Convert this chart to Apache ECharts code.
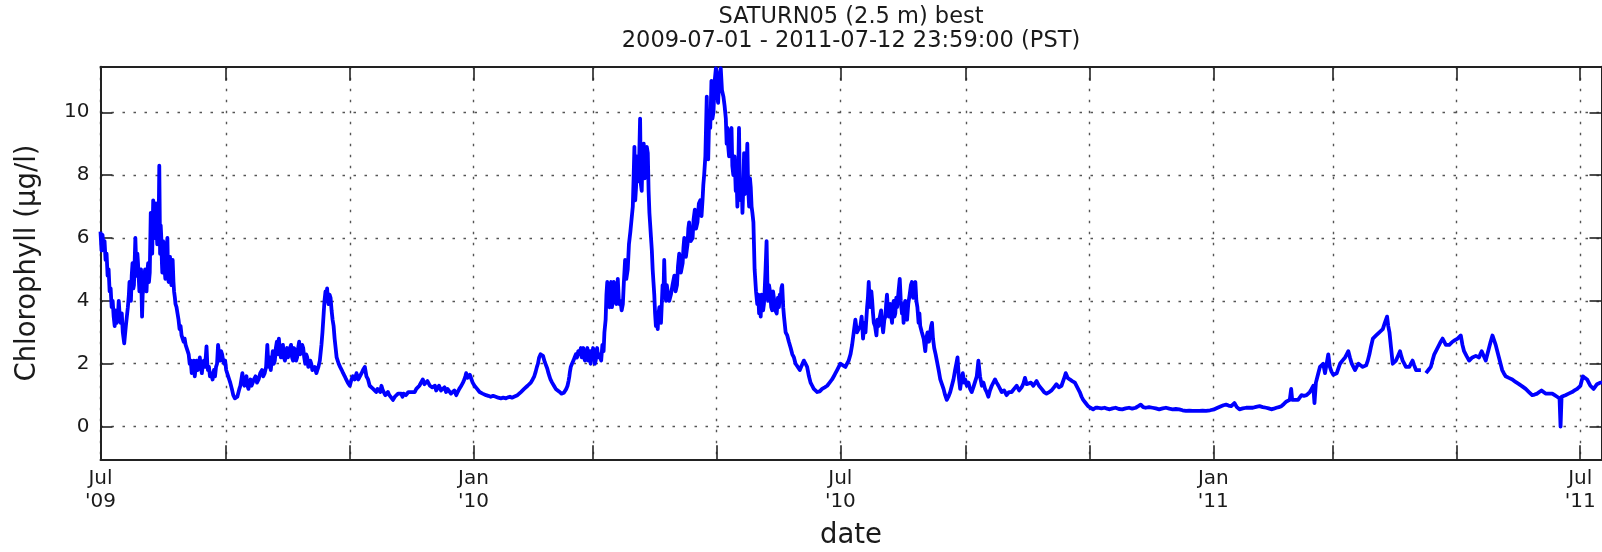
<!DOCTYPE html>
<html><head><meta charset="utf-8">
<script src="https://cdn.jsdelivr.net/npm/echarts@6/dist/echarts.min.js"></script>
<style>html,body{margin:0;padding:0;background:#fff}#c{width:1602px;height:552px}</style>
</head><body><div id="c"></div>
<script>
const titleLines = ['SATURN05 (2.5 m) best', '2009-07-01 - 2011-07-12 23:59:00 (PST)'];
const yAxisTitle = 'Chlorophyll (\u03bcg/l)';
const xAxisTitle = 'date';
const startDate = '2009-07-01';
const endDay = 740.5;
const tickDates = ['2009-07-01','2009-09-01','2009-11-01','2010-01-01','2010-03-01','2010-05-01','2010-07-01','2010-09-01','2010-11-01','2011-01-01','2011-03-01','2011-05-01','2011-07-01'];
const tickLabels = ["Jul\n'09",'','',"Jan\n'10",'','',"Jul\n'10",'','',"Jan\n'11",'','',"Jul\n'11"];
const yTicks = [0,2,4,6,8,10];
const yRange = [-1.04, 11.45];

// [days since 2009-07-01, chlorophyll µg/l]
const summer2009 = [[0,6.2],[0.5,5.6],[1,6.1],[1.5,5.7],[2,5.9],[2.5,5.3],[3,5.5],[3.5,4.8],[4,5.0],[4.5,4.3],[5,4.4],[5.5,3.8],[6,4.0],[6.5,3.5],[7,3.2],[7.5,3.7],[8,3.3],[8.5,3.4],[9,4.0],[9.5,3.5],[10,3.3],[10.5,3.6],[11,3.0],[11.7,2.65],[12.5,3.2],[13,3.5],[13.5,3.8],[14,4.2],[14.3,4.6],[15,4.0],[15.4,4.8],[15.8,5.2],[16.2,4.4],[16.5,4.5],[17.2,6.0],[17.8,4.8],[18.2,5.5],[18.5,5.2],[19.2,4.3],[19.6,4.9],[20,5.0],[20.5,3.5],[20.8,4.2],[21.2,4.4],[21.6,4.8],[22,5.0],[22.4,4.4],[22.7,4.3],[23.1,4.9],[23.5,5.2],[23.9,4.6],[24.3,4.9],[24.8,6.8],[25.1,5.9],[25.5,5.5],[26,7.2],[26.3,6.2],[26.6,6.0],[27,7.0],[27.3,7.1],[27.6,6.3],[28,5.8],[28.4,6.8],[28.7,6.5],[29,8.3],[29.4,5.5],[29.7,6.4],[30,6.0],[30.3,5.2],[30.5,4.9],[30.9,5.9],[31.3,5.8],[31.6,5.0],[32,4.7],[32.5,5.6],[33,6.0],[33.3,5.0],[33.6,4.6],[34,5.3],[34.3,5.4],[34.6,4.7],[35,4.5],[35.3,5.1],[35.6,5.3],[36,4.6],[36.3,4.3],[36.7,4.1],[37,3.9],[37.5,3.8],[38,3.6],[38.5,3.4],[39,3.1],[39.5,3.2],[40,2.9],[40.5,2.9],[41,2.7],[41.5,2.8],[42,2.6],[42.5,2.6],[43,2.4],[43.5,2.3],[44,2.0],[44.5,2.1],[45,1.7],[45.6,1.9],[46,2.1],[46.5,1.6],[47,1.9],[47.3,2.1],[48,1.8],[48.5,2.0],[49,2.2],[49.5,1.9],[50,1.7],[50.5,2.0],[51,2.1],[51.6,1.9],[52.3,2.55],[52.7,2.0],[53,1.8],[53.5,1.9],[54,1.6],[54.6,1.7],[55.3,1.5],[55.6,1.7],[56,1.8],[56.5,1.6],[57,1.9],[57.5,2.0],[58,2.6],[58.5,2.3],[59,2.1],[59.5,2.4],[60,2.3],[60.5,2.1],[61,2.0],[61.5,2.1],[62,1.8],[62.5,1.8],[63,1.6],[63.5,1.5],[64,1.4],[64.8,1.2],[65.5,1.0],[66.3,0.9],[67,0.85],[67.5,0.95],[68,1.0],[68.5,1.2],[69,1.3],[69.5,1.5],[70,1.7],[70.5,1.4],[71,1.3],[71.5,1.5],[72,1.6],[72.5,1.3],[73,1.2],[73.5,1.4],[74,1.5],[74.5,1.3],[75,1.3],[75.7,1.5],[76.5,1.6],[77.2,1.4],[78,1.5],[78.8,1.7],[79.7,1.8],[80.3,1.6],[81,1.7],[81.7,1.9],[82.3,2.6],[82.7,2.1],[83,1.9],[83.5,2.2],[84,1.8],[84.5,2.1],[85,2.4],[85.5,2.0],[86,2.1],[86.5,2.5],[87,2.7],[87.5,2.3],[88,2.8],[88.5,2.4],[89,2.2],[89.5,2.5],[90,2.6],[90.5,2.2],[91,2.1],[91.5,2.4],[92,2.5],[92.5,2.2],[93,2.2],[93.5,2.5],[94,2.6],[94.5,2.2],[95,2.1],[95.5,2.5],[96,2.4],[96.5,2.1],[97,2.2],[97.5,2.5],[98,2.7],[98.5,2.3],[99,2.3],[99.5,2.6],[100,2.5],[100.5,2.2],[101,2.0],[101.5,2.3],[102,2.2],[102.5,1.9],[103,1.9],[103.5,2.1],[104,2.0],[104.5,1.8],[105,1.8],[105.7,1.9],[106.5,1.7],[107,1.8],[107.5,1.9],[108.2,2.1],[109,2.6],[109.5,3.0],[110,3.5],[110.5,4.0],[111,4.3],[111.4,4.0],[111.8,4.4],[112.2,4.0],[112.5,3.9],[113,4.2],[113.5,4.1],[114,3.7],[114.5,3.4],[115,3.2],[115.5,2.8],[116,2.5],[116.5,2.2],[117,2.2],[117.5,2.0],[118.2,1.9],[119,1.8],[119.7,1.7],[120.5,1.6],[121.2,1.5],[122,1.4]];
const winter2010 = [[123,1.3],[123.8,1.5],[124.5,1.6],[125.4,1.5],[126.3,1.7],[127.2,1.5],[128,1.5],[128.8,1.7],[129.5,1.8],[130.4,1.9],[131.2,1.6],[132,1.5],[132.8,1.3],[133.6,1.3],[134.5,1.2],[135.2,1.25],[136,1.1],[136.7,1.2],[137.3,1.2],[138,1.1],[138.6,1.3],[139.3,1.15],[140,1.1],[140.5,1.0],[141,1.0],[141.8,1.1],[142.5,1.0],[143.4,0.95],[144.3,0.85],[145.2,0.95],[146,0.95],[146.8,1.05],[147.6,1.0],[148.3,1.05],[149,0.95],[149.5,1.05],[150,1.1],[150.7,1.0],[151.3,1.0],[151.9,1.1],[152.5,1.05],[153.2,1.1],[154,1.15],[155,1.1],[155.8,1.2],[156.5,1.25],[157.3,1.3],[158.2,1.35],[159,1.5],[159.8,1.35],[160.7,1.3],[161.3,1.45],[162,1.4],[162.5,1.3],[163,1.35],[163.7,1.25],[164.3,1.2],[165,1.3],[165.6,1.15],[166.3,1.2],[167,1.3],[168,1.15],[168.9,1.2],[169.7,1.25],[170.5,1.1],[171.2,1.2],[172,1.15],[172.9,1.05],[173.8,1.1],[174.6,1.15],[175.5,1.0],[176.2,1.1],[177,1.2],[177.5,1.25],[178,1.3],[178.8,1.4],[179.5,1.5],[180,1.6],[180.4,1.7],[181,1.55],[181.7,1.5],[182.2,1.65],[182.8,1.6],[183.6,1.4],[184.5,1.3],[185.2,1.3],[185.8,1.2],[186.4,1.15],[187,1.1],[187.7,1.1],[188.5,1.05],[189.3,1.0],[190.2,1.0],[191.3,0.98],[192.5,0.95],[193.7,0.98],[195,0.95],[196.2,0.92],[197.5,0.9],[198.7,0.92],[200,0.9],[201,0.93],[202,0.95],[203,0.92],[204,0.95],[204.8,1.0],[205.7,1.0],[206.5,1.05],[207.4,1.1],[208.2,1.12],[209,1.2],[209.8,1.22],[210.7,1.3],[211.5,1.33],[212.3,1.4],[213.2,1.5],[214,1.6],[214.7,1.75],[215.3,1.9],[215.8,2.0],[216.4,2.2],[217.1,2.3],[217.8,2.35],[218.3,2.25],[218.8,2.2],[219.2,2.05],[219.7,2.0],[220.4,1.85],[221,1.7],[221.5,1.6],[222,1.5],[222.8,1.4],[223.7,1.3],[224.6,1.2],[225.5,1.15],[226.2,1.12],[226.8,1.1],[227.4,1.05],[228,1.05],[228.6,1.08],[229.2,1.1],[229.8,1.2],[230.4,1.3],[230.9,1.45],[231.3,1.6],[231.6,1.75],[232,1.9],[232.6,2.0],[233.3,2.1],[233.9,2.2],[234.5,2.3],[235.1,2.2],[235.7,2.4],[236.3,2.3],[237,2.5],[237.4,2.2],[237.8,2.3],[238.2,2.5],[238.6,2.2],[239,2.1],[239.4,2.4],[239.8,2.3],[240.2,2.5],[240.6,2.1],[241,2.2],[241.4,2.4],[241.8,2.0],[242.2,2.4],[242.6,2.2],[243,2.5],[243.5,2.3],[243.9,2.0],[244.3,2.1],[244.7,2.4],[245,2.5],[245.5,2.2],[246.2,2.3]];
const spring2010 = [[247,2.1],[247.6,2.6],[248.2,2.4],[248.6,3.0],[249.2,3.4],[249.6,4.2],[250,4.6],[250.5,3.9],[251.1,3.8],[251.5,4.5],[251.9,4.6],[252.3,3.8],[252.7,4.0],[253.2,4.6],[253.9,4.5],[254.4,3.9],[255.2,4.7],[255.8,3.9],[256.5,4.0],[257.1,3.7],[257.7,3.9],[258.2,4.6],[258.8,5.3],[259.4,4.7],[260.1,5.0],[260.7,5.8],[261.4,6.2],[262,6.6],[262.6,7.0],[263,7.9],[263.4,8.9],[263.8,7.2],[264.2,7.6],[264.6,8.6],[265,8.5],[265.5,7.8],[266.2,9.8],[266.6,7.7],[267,7.5],[267.5,8.8],[268,9.0],[268.5,7.9],[269.1,8.2],[269.5,8.9],[270,8.7],[270.4,7.5],[270.8,6.8],[271.2,6.4],[271.6,6.0],[272,5.6],[272.4,5.0],[272.8,4.6],[273.2,4.2],[273.6,3.6],[274,3.2],[274.4,3.5],[274.9,3.1],[275.3,3.6],[275.7,3.8],[276.1,3.4],[276.5,3.3],[276.9,3.9],[277.3,4.5],[277.7,4.1],[278.1,5.3],[278.5,4.4],[279,4.0],[279.4,4.5],[279.8,4.3],[280.6,4.0],[281.4,4.2],[282.2,4.5],[283.1,4.8],[283.7,4.3],[284.4,4.5],[284.9,5.1],[285.5,5.5],[286.3,4.9],[287.2,5.2],[287.6,5.7],[288,6.0],[288.8,5.4],[289.6,5.8],[290,6.3],[290.4,6.5],[291.2,5.9],[292.1,6.0],[292.6,6.6],[293.2,6.9],[293.8,6.3],[294.5,6.5],[295.2,7.1],[295.9,7.2],[296.5,6.7],[297,7.2],[297.4,7.7],[297.8,8.0],[298.4,8.6],[299.1,10.5],[299.4,8.8],[299.8,8.5],[300.3,9.9],[300.8,9.5],[301.1,10.2],[301.4,11.0],[301.9,9.8],[302.4,10.0],[303,11.0],[303.6,11.4],[304.2,10.6],[304.7,10.3],[305.3,11.2],[306,11.4],[306.6,10.7],[307.3,10.5],[307.9,10.2],[308.5,9.8],[308.9,9.0],[309.3,9.5],[309.7,8.9],[310.1,8.6],[310.7,9.3],[311.3,9.5],[311.7,8.3],[312.2,8.0],[312.8,8.6],[313.4,7.5],[313.8,7.9],[314.2,7.0],[314.6,8.0],[315,9.5],[315.4,7.6],[315.9,7.2],[316.3,7.8],[316.7,6.8],[317.1,7.6],[317.5,8.7],[317.9,7.4],[318.3,7.5],[318.7,8.2],[319.1,9.0],[319.5,7.6],[320,7.0],[320.4,7.9],[320.8,7.6],[321.2,7.0],[321.6,6.8],[322.1,6.5],[322.7,5.0],[323.4,4.3],[324,3.9],[324.5,4.2],[324.9,3.6],[325.3,4.1],[325.7,3.5],[326.1,4.2],[326.5,4.0],[326.9,3.7],[327.3,3.9],[327.7,4.4],[328.1,5.0],[328.6,5.9],[329,4.6],[329.3,4.0],[329.8,4.5],[330.3,4.3],[330.9,3.8],[331.4,3.7],[331.8,4.3],[332.2,4.1],[332.9,3.7],[333.6,3.6],[334.2,4.1],[334.7,3.8],[335.1,4.2],[335.5,4.0],[335.9,4.4],[336.3,4.5],[336.8,3.8],[337.2,3.5],[338,3.0],[338.8,2.9],[339.6,2.7],[340.5,2.5],[341.3,2.3],[342.1,2.2],[342.9,2.0],[344,1.9],[345,1.8],[346,1.95],[347,2.1],[347.8,2.0],[348.6,1.9],[349.5,1.6],[350.3,1.4],[351.1,1.3],[351.9,1.2],[352.8,1.15],[353.6,1.1],[354.8,1.12],[356,1.2],[357.3,1.25],[358.5,1.3],[359.7,1.4],[360.9,1.5],[362.2,1.65],[363.4,1.8],[364.2,1.9],[365,2.0],[366.3,1.95],[367.5,1.9],[368.3,2.0],[369.1,2.1],[370,2.3],[370.8,2.6],[371.6,3.0],[372.4,3.4],[373.2,3.0],[374,3.1]];
const summer2010 = [[374.9,3.2],[375.5,3.5],[376.2,2.8],[376.8,3.3],[377.4,3.0],[377.8,3.4],[378.2,3.8],[378.6,4.1],[379,4.6],[379.4,4.0],[379.8,3.8],[380.3,4.3],[380.7,4.0],[381.1,3.6],[381.5,3.3],[382.1,3.2],[382.8,2.9],[383.3,3.4],[383.9,3.2],[384.5,3.5],[385.1,3.7],[385.6,3.3],[386.1,3.0],[386.7,3.4],[387.2,3.5],[387.6,3.9],[388,4.2],[388.5,3.7],[388.9,3.5],[389.3,3.8],[389.7,3.9],[390.1,3.5],[390.5,3.3],[390.9,3.8],[391.3,4.0],[391.7,3.5],[392.1,3.6],[392.6,4.1],[393,3.8],[393.7,4.3],[394.3,4.7],[394.8,4.0],[395.4,3.6],[395.8,3.9],[396.2,3.3],[396.6,3.8],[397,4.0],[397.4,3.6],[397.9,3.4],[398.5,3.9],[399.2,4.2],[399.8,4.5],[400.3,4.6],[400.9,4.1],[401.5,4.4],[402,4.6],[402.5,4.0],[403,3.8],[403.6,3.3],[404,3.6],[404.4,3.2],[405.2,3.0],[406.1,2.8],[406.5,2.6],[406.9,2.4],[407.4,2.8],[408,3.0],[408.7,2.7],[409.3,3.0],[409.8,3.2],[410.2,3.3],[410.7,2.8],[411.3,2.5],[412,2.3],[412.6,2.1],[413.5,1.8],[414.3,1.5],[415.1,1.35],[415.9,1.2],[416.7,1.0],[417.5,0.85],[418.3,0.95],[419.2,1.1],[420,1.3],[420.8,1.5],[421.2,1.65],[421.6,1.8],[422.2,2.0],[422.8,2.2],[423.4,1.6],[424.1,1.2],[424.7,1.5],[425.4,1.7],[426,1.4],[426.6,1.5],[427.4,1.3],[428.2,1.4],[429,1.2],[429.8,1.1],[430.6,1.25],[431.5,1.3],[432.3,1.6],[433.1,2.1],[433.9,1.6],[434.8,1.3],[435.6,1.4],[436.4,1.2],[437.2,1.1],[438,0.95],[438.8,1.15],[439.7,1.3],[440.5,1.35],[441.3,1.5],[442.1,1.4],[443,1.3],[443.8,1.2],[444.6,1.1],[445.8,1.15],[447,1.0],[448.2,1.1],[449.5,1.1],[450.7,1.2],[452,1.3],[453.2,1.15],[454.4,1.25],[455.2,1.35],[456.1,1.55],[456.9,1.35],[457.7,1.3],[459,1.4],[460.2,1.3],[461,1.35],[461.8,1.45],[463,1.3],[464.3,1.2],[465.5,1.1],[466.7,1.05],[468,1.1],[469.2,1.15],[470.4,1.25],[471.6,1.35],[472.8,1.25],[474.1,1.3],[475.2,1.5],[476.2,1.7],[477.2,1.55],[478.2,1.5],[479.4,1.45],[480.7,1.4],[481.9,1.25],[483.1,1.1],[484,0.95],[484.8,0.85],[486,0.75],[487.2,0.65],[488.4,0.6],[489.7,0.55],[490.9,0.6],[492.1,0.6],[493.8,0.58],[495.4,0.6],[496.6,0.57],[497.9,0.55]];
const winter2011 = [[499.3,0.58],[500.8,0.6],[502.4,0.56],[504.1,0.55],[505.7,0.58],[507.4,0.6],[509,0.57],[510.7,0.6],[512,0.65],[513.2,0.7],[514.4,0.62],[515.6,0.6],[517.3,0.62],[519,0.6],[520.6,0.58],[522.3,0.55],[524,0.58],[525.6,0.6],[527.3,0.57],[528.9,0.55],[530.5,0.56],[532.2,0.55],[533.8,0.52],[535.5,0.5],[537.1,0.51],[538.8,0.5],[540.4,0.5],[542.1,0.5],[543.7,0.51],[545.4,0.5],[547.4,0.52],[549.5,0.55],[551.1,0.6],[552.8,0.65],[554,0.68],[555.3,0.7],[556.5,0.67],[557.8,0.65],[558.6,0.7],[559.4,0.75],[560.6,0.62],[561.9,0.55],[563.5,0.58],[565.2,0.6],[566.8,0.6],[568.5,0.6],[570.1,0.63],[571.8,0.65],[573.4,0.62],[575.1,0.6],[576.3,0.58],[577.6,0.55],[578.8,0.57],[580.1,0.6],[581.3,0.62],[582.6,0.65],[583.8,0.72],[585.1,0.8],[585.9,0.83],[586.7,0.85],[587.4,1.2],[587.9,0.85],[589.3,0.85],[590.8,0.85],[591.6,0.92],[592.5,1.0],[593.7,0.98],[595,1.0],[595.8,1.05],[596.6,1.1],[597.5,1.2],[598.3,1.3],[598.9,0.75],[599.6,1.4],[600.6,1.65],[601.6,1.9],[602.4,1.85],[603.2,2.0],[604.1,1.7],[604.9,2.0],[605.7,2.3],[606.5,1.9],[607.3,1.75],[608.2,1.65],[609,1.68],[609.9,1.7],[610.7,1.85],[611.5,2.0],[612.7,2.1],[614,2.2],[614.8,2.3],[615.6,2.4],[616.4,2.2],[617.3,2.0],[618.1,1.9],[618.9,1.8],[619.7,1.9],[620.6,2.0],[621.6,1.95]];
const spring2011 = [[622.7,1.9],[623.5,1.92],[624.4,1.95],[625.2,2.1],[626,2.3],[626.8,2.55],[627.7,2.8],[628.5,2.85],[629.3,2.9],[630.1,2.95],[630.9,3.0],[631.7,3.05],[632.6,3.1],[633.6,3.3],[634.7,3.5],[635.3,3.2],[635.9,3.0],[636.7,2.5],[637.5,2.0],[638.3,2.05],[639.1,2.1],[640.1,2.25],[641.1,2.4],[641.7,2.25],[642.4,2.1],[643.2,2.0],[644,1.9],[644.8,1.9],[645.7,1.9],[646.5,2.0],[647.3,2.1],[648.1,1.95],[649,1.8],[650.2,1.8],[651.4,1.8],[652.8,null],[653.9,1.7],[655.1,1.8],[656.3,1.9],[657.1,2.1],[658,2.3],[659.2,2.45],[660.4,2.6],[661.2,2.7],[662.1,2.8],[662.9,2.7],[663.7,2.6],[664.5,2.6],[665.4,2.6],[666.2,2.65],[667,2.7],[668.2,2.75],[669.5,2.8],[670.3,2.85],[671.1,2.9],[671.9,2.6],[672.7,2.4],[673.9,2.25],[675.2,2.1],[676,2.15],[676.8,2.2],[677.6,2.22],[678.5,2.25],[679.3,2.22],[680.1,2.2],[680.7,2.3],[681.4,2.4],[682.4,2.25],[683.4,2.1],[684.2,2.3],[685,2.5],[685.8,2.7],[686.7,2.9],[687.5,2.75],[688.3,2.6],[689.1,2.4],[689.9,2.2],[690.7,2.0],[691.5,1.8],[692.3,1.7],[693.2,1.6],[694.8,1.55],[696.5,1.5],[698.1,1.42],[699.8,1.35],[701.4,1.28],[703.1,1.2],[704.7,1.1],[706.3,1.0],[707.5,1.02],[708.8,1.05],[709.8,1.1],[710.9,1.15],[711.9,1.1],[712.9,1.05],[714.5,1.05],[716.2,1.05],[717.4,1.0],[718.6,0.95],[719.2,0.92],[719.8,0.9],[720.3,0.0],[720.8,0.95],[721.7,0.98],[722.7,1.0],[724.3,1.05],[726,1.1],[727.2,1.15],[728.5,1.2],[729.3,1.25],[730.1,1.3],[730.7,1.45],[731.3,1.6],[732.3,1.55],[733.4,1.5],[734.2,1.4],[735,1.3],[735.8,1.25],[736.6,1.2],[737.5,1.28],[738.3,1.35],[739.1,1.38],[739.9,1.4],[741.5,1.4]];

const DAY = 86400000;
const t0 = Date.parse(startDate + 'T00:00:00Z');
const toTime = d => t0 + d * DAY;
const allObs = [].concat(summer2009, winter2010, spring2010, summer2010, winter2011, spring2011);
const seriesData = allObs.map(p => [toTime(p[0]), p[1]]);
const tickTimes = tickDates.map(s => Date.parse(s + 'T00:00:00Z'));
const labelTimes = tickTimes.filter((t, i) => tickLabels[i] !== '');
const labelOf = {};
tickTimes.forEach((t, i) => { labelOf[t] = tickLabels[i]; });

const FONT = 'DejaVu Sans';
const TXT = '#1a1a1a';
const spine = { show: true, onZero: false, lineStyle: { color: '#222', width: 2 } };
const grid = { left: 100.5, top: 66.7, width: 1501, height: 392.6, outerBoundsMode: 'none', containLabel: false };

const chart = echarts.init(document.getElementById('c'), null, { renderer: 'canvas' });
chart.setOption({
  animation: false,
  backgroundColor: '#fff',
  grid: grid,
  graphic: [{
    type: 'text', x: 851, y: 5,
    style: { text: titleLines.join('\n'), font: '22.5px "DejaVu Sans"', fill: TXT, align: 'center', verticalAlign: 'top', lineHeight: 24 }
  }],
  xAxis: [{
    type: 'value', position: 'bottom', min: t0, max: toTime(endDay),
    axisLine: spine,
    axisTick: { show: true, inside: true, length: 14, customValues: tickTimes, lineStyle: { color: '#222', width: 1.6 } },
    axisLabel: { show: true, customValues: labelTimes, margin: 8, fontFamily: FONT, fontSize: 20, lineHeight: 23, color: TXT, align: 'center',
      formatter: v => labelOf[v] || '' },
    splitLine: { show: true, lineStyle: { color: '#555', width: 1.4, type: [2.5, 8.5] } },
    name: xAxisTitle, nameLocation: 'middle', nameGap: 63,
    nameTextStyle: { fontFamily: FONT, fontSize: 27.5, color: TXT }
  }, {
    type: 'value', position: 'top', min: t0, max: toTime(endDay),
    axisLine: spine,
    axisTick: { show: true, inside: true, length: 14, customValues: tickTimes, lineStyle: { color: '#222', width: 1.6 } },
    axisLabel: { show: false }, splitLine: { show: false }
  }],
  yAxis: [{
    type: 'value', position: 'left', min: yRange[0], max: yRange[1],
    axisLine: spine,
    axisTick: { show: true, inside: true, length: 12, customValues: yTicks, lineStyle: { color: '#222', width: 1.6 } },
    axisLabel: { show: true, customValues: yTicks, margin: 11, fontFamily: FONT, fontSize: 20, color: TXT },
    splitLine: { show: true, lineStyle: { color: '#555', width: 1.4, type: [2.5, 8.5] } },
    name: yAxisTitle, nameLocation: 'middle', nameGap: 59, nameRotate: 90,
    nameTextStyle: { fontFamily: FONT, fontSize: 27.5, color: TXT }
  }, {
    type: 'value', position: 'right', min: yRange[0], max: yRange[1],
    axisLine: spine,
    axisTick: { show: true, inside: true, length: 12, customValues: yTicks, lineStyle: { color: '#222', width: 1.6 } },
    axisLabel: { show: false }, splitLine: { show: false }
  }],
  series: [{
    type: 'line', xAxisIndex: 0, yAxisIndex: 0, data: seriesData,
    showSymbol: false, symbol: 'none', connectNulls: false, clip: true,
    lineStyle: { color: '#0000ff', width: 3.8, join: 'round' }, z: 3
  }]
});
</script></body></html>
